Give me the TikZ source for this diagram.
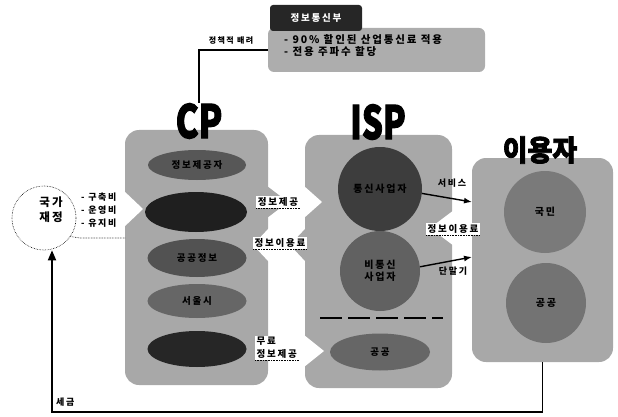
\documentclass[tikz,border=0pt]{standalone}
\usepackage{fontspec}
\usepackage{graphicx}
\newfontfamily\kr{Noto Sans CJK KR}[LetterSpace=18]
\newfontfamily\krb{Noto Sans CJK KR}[FakeBold=2.5]
\usetikzlibrary{shapes.geometric,arrows.meta,calc}
\begin{document}
\begin{tikzpicture}[x=1pt,y=-1pt,
  panel/.style={rectangle, rounded corners=14pt, fill=black!34, inner sep=0pt},
  oval/.style={ellipse, inner sep=0pt, font=\kr\bfseries\fontsize{9.5}{11}\selectfont},
  disc/.style={circle, inner sep=0pt, align=center, font=\kr\bfseries\fontsize{10}{12}\selectfont},
  lab/.style={fill=white, inner sep=1.5pt, font=\kr\bfseries\fontsize{9.5}{13}\selectfont},
  txt/.style={inner sep=1pt, font=\kr\bfseries\fontsize{9}{13}\selectfont},
  flow/.style={line width=1.4pt, -{Latex[length=8pt,width=6pt]}},
  big/.style={inner sep=0pt, font=\krb\bfseries\fontsize{46}{46}\selectfont},
  dotline/.style={densely dotted, line width=0.6pt}]
\useasboundingbox (0,0) rectangle (618,417);

% top box
\node[rectangle, rounded corners=6pt, fill=black!32, minimum width=217pt, minimum height=44pt] (tb) at (376.5,50) {};
\node[rectangle, rounded corners=3pt, fill=black!85, text=white, minimum width=92pt, minimum height=26pt,
      font=\kr\bfseries\fontsize{9.5}{11}\selectfont] (hd) at (316,18) {정보통신부};
\node[txt, anchor=west, align=left, font=\kr\bfseries\fontsize{10.5}{12}\selectfont] (tt) at (283,46)
   {- 90\% 할인된 산업통신료 적용\\- 전용 주파수 할당};
\node[txt, font=\kr\bfseries\fontsize{8}{10}\selectfont] (pol) at (231,41) {정책적 배려};

% panels
\node[panel, minimum width=143pt, minimum height=255pt] (cp) at (196.5,257.5) {};
\node[panel, minimum width=147pt, minimum height=253pt] (isp) at (378.5,261.5) {};
\node[panel, minimum width=141pt, minimum height=204pt] (users) at (542.5,260) {};

% notches
\fill[white] (123,190) -- (143,209) -- (123,228) -- cycle;
\fill[white] (269,228) -- (253,245) -- (269,262) -- cycle;
\fill[black!34] (267,186) -- (288,202) -- (267,218) -- cycle;
\fill[white] (304,186) -- (322,202) -- (304,218) -- cycle;
\fill[black!34] (306,228) -- (290,245) -- (306,262) -- cycle;
\fill[white] (304,335) -- (324,351) -- (304,367) -- cycle;
\fill[white] (454,210) -- (430,228) -- (454,246) -- cycle;

% titles
\node[big] (cpT) at (199,121) {\scalebox{0.75}[1]{CP}};
\node[big] (ispT) at (378,122) {\scalebox{0.72}[1]{ISP}};
\node[big, font=\krb\bfseries\fontsize{29}{29}\selectfont] (usT) at (540,150) {\scalebox{0.93}[1]{이용자}};

% CP ellipses
\node[oval, fill=black!66, minimum width=98pt, minimum height=30pt] (c1) at (197,165) {정보제공자};
\node[oval, fill=black!88, minimum width=102pt, minimum height=40pt] (c2) at (196,212) {};
\node[oval, fill=black!68, minimum width=99pt, minimum height=38pt] (c3) at (197,258) {공공정보};
\node[oval, fill=black!60, minimum width=99pt, minimum height=34pt] (c4) at (197,301) {서울시};
\node[oval, fill=black!85, minimum width=99pt, minimum height=36pt] (c5) at (197,349) {};

% ISP
\node[disc, fill=black!76, minimum size=84pt] (i1) at (380,189) {통신사업자};
\node[disc, fill=black!62, minimum size=80pt] (i2) at (380,271) {비통신\\사업자};
\coordinate (dl) at (320,318);
\coordinate (dr) at (443,318);
\draw[line width=2.6pt, dash pattern=on 22pt off 6pt] (dl) -- (dr);
\node[oval, fill=black!60, minimum width=100pt, minimum height=37pt] (i3) at (380,352) {공공};

% users
\node[disc, fill=black!52, minimum size=82pt] (u1) at (545,212) {국민};
\node[disc, fill=black!55, minimum size=80pt] (u2) at (546,303) {공공};

% labels between panels
\node[lab] (l1) at (278,202) {정보제공};
\node[lab] (l2) at (280,243) {정보이용료};
\node[lab, align=left, anchor=west] (l3) at (255,348) {무료\\정보제공};
\node[lab] (l4) at (453,229) {정보이용료};
\draw[dotline] (l1.south west) -- (l1.south east);
\draw[dotline] (l2.south west) -- (l2.south east);
\draw[dotline] (l3.south west) -- (l3.south east);
\draw[dotline] (l4.south west) -- (l4.south east);
\node[txt] (l5) at (452,183) {서비스};
\node[txt] (l6) at (453,271) {단말기};

% arrows ISP -> users
\coordinate (su) at (472,202);
\coordinate (sd) at (472,257);
\draw[flow] (i1.-6) -- (su);
\draw[flow] (i2.6) -- (sd);

% government
\node[circle, draw, dotline, minimum size=64pt, inner sep=0pt] (gov) at (44,218) {};
\node[txt, align=center, font=\kr\bfseries\fontsize{11.5}{15}\selectfont] (govT) at (51,210) {국가\\재정};
\node[txt, anchor=north west, align=left] (cost) at (80,192) {- 구축비\\- 운영비\\- 유지비};
\coordinate (gd) at (125,238);
\draw[dotline] (gov.-35) -- (80,238) -- (gd);

% policy line
\draw[line width=1.2pt] (tb.west) -| (cpT.north);

% tax loop
\coordinate (b0) at (52,412);
\draw[line width=1.8pt, -{Triangle[length=10pt,width=8pt]}] (users.south) |- (b0) -- (b0 |- gov.south);
\node[txt, anchor=west] (tax) at (55,402) {세금};
\end{tikzpicture}
\end{document}
